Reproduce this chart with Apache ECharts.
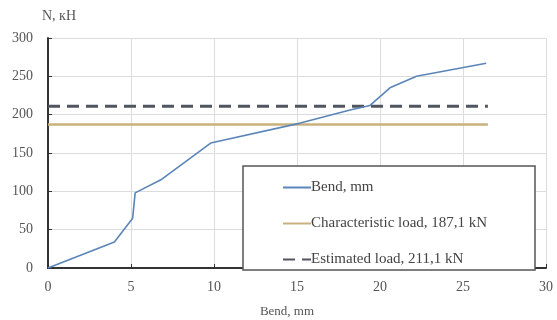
<!DOCTYPE html>
<html>
<head>
<meta charset="utf-8">
<script src="https://cdn.jsdelivr.net/npm/echarts@6/dist/echarts.min.js"></script>
<style>html,body{margin:0;padding:0;background:#fff}#c{width:557px;height:320px}</style>
</head>
<body>
<div id="c"></div>
<script>
// Load–deflection curve (bend in mm, load in kN)
const bendMm = [0, 4.0, 5.1, 5.25, 6.8, 9.8, 15.2, 18.2, 19.4, 20.6, 22.2, 26.4];
const loadKn = [0, 34, 65, 98, 115, 163, 189, 206, 212, 235, 250, 267];
const characteristicLoad = 187.1;
const estimatedLoad = 211.1;
const refLineSpan = [0, 26.5];
const seriesNames = ['Bend, mm', 'Characteristic load, 187,1 kN', 'Estimated load, 211,1 kN'];

const font = 'Liberation Serif';
const bendData = bendMm.map((x, i) => [x, loadKn[i]]);
const flat = v => refLineSpan.map(x => [x, v]);

const chart = echarts.init(document.getElementById('c'));
chart.setOption({
  animation: false,
  grid: { left: 48, right: 11, top: 38, bottom: 52, outerBoundsMode: 'none' },
  xAxis: {
    type: 'value', min: 0, max: 30, interval: 5,
    name: 'Bend, mm', nameLocation: 'middle', nameGap: 37,
    nameTextStyle: { fontFamily: font, fontSize: 13, color: '#555', padding: [0, 20, 0, 0] },
    axisLine: { lineStyle: { color: '#333', width: 2 } },
    axisTick: { show: true, inside: true, length: 4, lineStyle: { color: '#333' } },
    axisLabel: { fontFamily: font, fontSize: 14, color: '#555', margin: 12 },
    splitLine: { lineStyle: { color: '#dcdcdc' } }
  },
  yAxis: {
    type: 'value', min: 0, max: 300, interval: 50,
    name: 'N, кН', nameLocation: 'end', nameGap: 15,
    nameTextStyle: { fontFamily: font, fontSize: 14, color: '#555', align: 'left', padding: [0, 0, 0, -6] },
    axisLine: { show: true, lineStyle: { color: '#333', width: 2 } },
    axisTick: { show: true, inside: true, length: 4, lineStyle: { color: '#333' } },
    axisLabel: { fontFamily: font, fontSize: 14, color: '#555', margin: 15 },
    splitLine: { lineStyle: { color: '#dcdcdc' } }
  },
  legend: {
    orient: 'vertical', left: 277, top: 175, itemGap: 21, z: 100,
    itemWidth: 28, itemHeight: 15,
    itemStyle: { opacity: 0 },
    textStyle: { fontFamily: font, fontSize: 15, color: '#444', padding: [0, 0, 0, -5] },
    data: seriesNames
  },
  graphic: [{
    type: 'rect', z: 50,
    shape: { x: 243, y: 166, width: 292, height: 104 },
    style: { fill: '#fff', stroke: '#555', lineWidth: 1.5 }
  }],
  series: [
    {
      name: seriesNames[0], type: 'line', data: bendData, symbol: 'none', z: 5,
      lineStyle: { color: '#5b85b8', width: 1.6 }, itemStyle: { color: '#5b85b8' }
    },
    {
      name: seriesNames[1], type: 'line', data: flat(characteristicLoad), symbol: 'none', z: 3,
      lineStyle: { color: '#c9b07e', width: 2.5 }, itemStyle: { color: '#c9b07e' }
    },
    {
      name: seriesNames[2], type: 'line', data: flat(estimatedLoad), symbol: 'none', z: 4,
      lineStyle: { color: '#50555f', width: 3, type: [12, 7] }, itemStyle: { color: '#50555f' }
    }
  ]
});
</script>
</body>
</html>
